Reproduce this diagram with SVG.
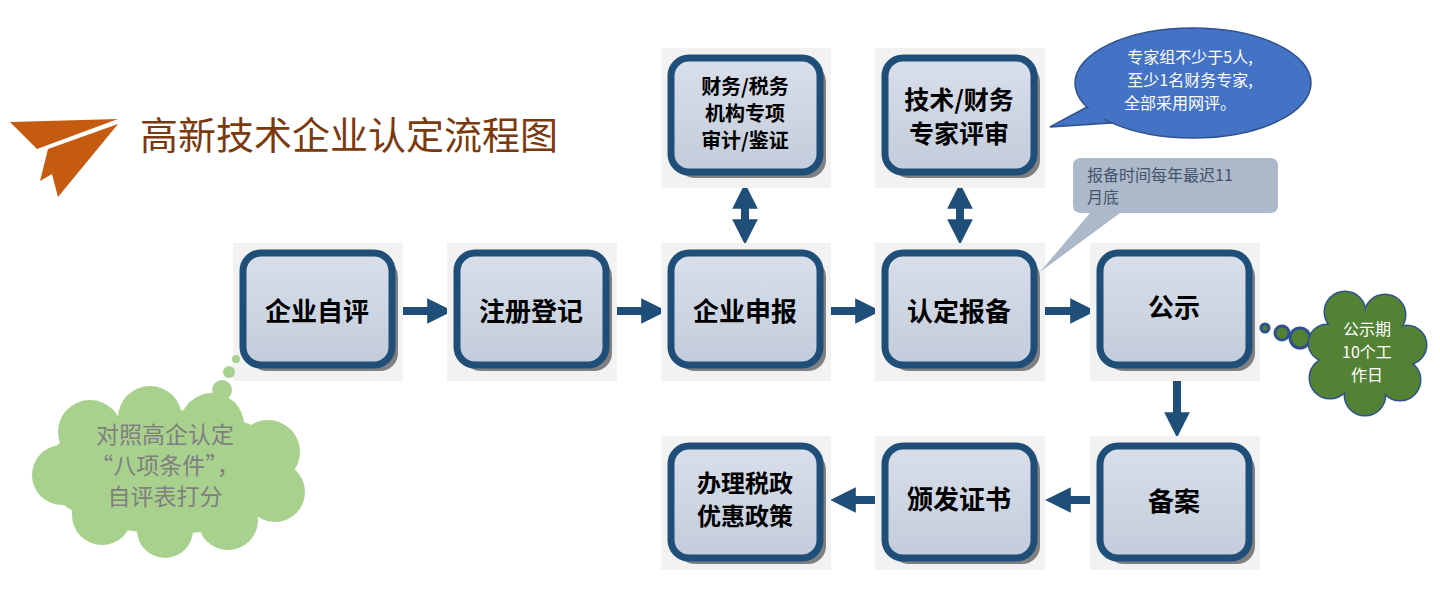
<svg xmlns="http://www.w3.org/2000/svg" width="1440" height="604" viewBox="0 0 1440 604">
<defs>
<linearGradient id="g" x1="0" y1="0" x2="0" y2="1"><stop offset="0" stop-color="#d9dfea"/><stop offset="1" stop-color="#c3ccdb"/></linearGradient>
<marker id="ah" viewBox="0 0 10 10" refX="5" refY="5" markerWidth="3.2" markerHeight="3.2" orient="auto-start-reverse" markerUnits="strokeWidth"><path d="M0,0L10,5L0,10z" fill="#1f4e79"/></marker>
</defs>
<style>
.panel{fill:#f2f2f2}
.sh{fill:#808080}
.box{fill:url(#g);stroke:#1f4e79;stroke-width:7}
.t{font-family:"Noto Sans CJK SC",sans-serif;font-weight:bold;fill:#000;text-anchor:middle}
.c{stroke:#1f4e79;stroke-width:8;fill:none;marker-end:url(#ah)}
.n{font-family:"Noto Sans CJK SC",sans-serif;text-anchor:middle}
.s{font-family:"Noto Sans CJK SC",sans-serif;text-anchor:start}
</style>
<rect width="1440" height="604" fill="#fff"/>
<g id="title">
<polygon points="10,122 118,119 37,149" fill="#c55a11"/>
<polygon points="48,149 118,124 58,197 52,174 40,181" fill="#c55a11"/>
<text x="140" y="149" font-family="Noto Sans CJK SC,sans-serif" font-size="38" fill="#7b3a0e">高新技术企业认定流程图</text>
</g>
<g id="connectors">
<line class="c" x1="402" y1="311" x2="440" y2="311"/>
<line class="c" x1="616" y1="311" x2="654" y2="311"/>
<line class="c" x1="830" y1="311" x2="868" y2="311"/>
<line class="c" x1="1044" y1="311" x2="1083" y2="311"/>
<line class="c" x1="1177" y1="372" x2="1177" y2="425"/>
<line class="c" x1="1097" y1="500" x2="1058" y2="500"/>
<line class="c" x1="882" y1="500" x2="843" y2="500"/>
<line class="c" x1="745" y1="196" x2="745" y2="232" style="marker-start:url(#ah)"/>
<line class="c" x1="960" y1="196" x2="960" y2="232" style="marker-start:url(#ah)"/>
</g>
<g id="n1"><rect class="panel" x="233" y="243" width="170" height="138"/><rect class="sh" x="249" y="259" width="149" height="112" rx="18"/><rect class="box" x="243" y="253" width="149" height="112" rx="18"/><text class="t" x="317" y="321" font-size="26">企业自评</text></g>
<g id="n2"><rect class="panel" x="447" y="243" width="170" height="138"/><rect class="sh" x="463" y="259" width="149" height="112" rx="18"/><rect class="box" x="457" y="253" width="149" height="112" rx="18"/><text class="t" x="531" y="321" font-size="26">注册登记</text></g>
<g id="n3"><rect class="panel" x="661" y="243" width="170" height="138"/><rect class="sh" x="677" y="259" width="149" height="112" rx="18"/><rect class="box" x="671" y="253" width="149" height="112" rx="18"/><text class="t" x="745" y="321" font-size="26">企业申报</text></g>
<g id="n4"><rect class="panel" x="875" y="243" width="170" height="138"/><rect class="sh" x="891" y="259" width="149" height="112" rx="18"/><rect class="box" x="885" y="253" width="149" height="112" rx="18"/><text class="t" x="959" y="321" font-size="26">认定报备</text></g>
<g id="n5"><rect class="panel" x="1090" y="243" width="170" height="138"/><rect class="sh" x="1106" y="259" width="149" height="112" rx="18"/><rect class="box" x="1100" y="253" width="149" height="112" rx="18"/><text class="t" x="1174" y="317" font-size="26">公示</text></g>
<g id="n6"><rect class="panel" x="661" y="48" width="170" height="140"/><rect class="sh" x="677" y="64" width="149" height="114" rx="18"/><rect class="box" x="671" y="58" width="149" height="114" rx="18"/><text class="t" x="745" y="94" font-size="20">财务/税务</text><text class="t" x="745" y="121" font-size="20">机构专项</text><text class="t" x="745" y="148" font-size="20">审计/鉴证</text></g>
<g id="n7"><rect class="panel" x="875" y="48" width="170" height="140"/><rect class="sh" x="891" y="64" width="149" height="114" rx="18"/><rect class="box" x="885" y="58" width="149" height="114" rx="18"/><text class="t" x="959" y="109" font-size="25">技术/财务</text><text class="t" x="959" y="143" font-size="25">专家评审</text></g>
<g id="n8"><rect class="panel" x="661" y="436" width="170" height="134"/><rect class="sh" x="677" y="452" width="149" height="112" rx="18"/><rect class="box" x="671" y="446" width="149" height="112" rx="18"/><text class="t" x="745" y="492" font-size="24">办理税政</text><text class="t" x="745" y="525" font-size="24">优惠政策</text></g>
<g id="n9"><rect class="panel" x="875" y="436" width="170" height="134"/><rect class="sh" x="891" y="452" width="149" height="112" rx="18"/><rect class="box" x="885" y="446" width="149" height="112" rx="18"/><text class="t" x="959" y="509" font-size="26">颁发证书</text></g>
<g id="n10"><rect class="panel" x="1090" y="436" width="170" height="134"/><rect class="sh" x="1106" y="452" width="149" height="112" rx="18"/><rect class="box" x="1100" y="446" width="149" height="112" rx="18"/><text class="t" x="1174" y="511" font-size="26">备案</text></g>
<g id="callout-blue">
<path d="M1050,127 L1100,100 L1125,122 Z" fill="#4472c4" stroke="#2f528f" stroke-width="1.5"/>
<ellipse cx="1193" cy="83" rx="118" ry="55" fill="#4472c4" stroke="#2f528f" stroke-width="1.5"/>
<path d="M1054,125 L1100,103 L1120,117 Z" fill="#4472c4"/>
<text class="n" fill="#fff" font-size="16"><tspan x="1190" y="63">专家组不少于5人,</tspan><tspan x="1190" y="86">至少1名财务专家,</tspan><tspan x="1180" y="109">全部采用网评。</tspan></text>
</g>
<g id="callout-gray">
<path d="M1081,158 H1270 Q1278,158 1278,166 V205 Q1278,213 1270,213 H1120 L1040,272 L1090,213 H1081 Q1073,213 1073,205 V166 Q1073,158 1081,158Z" fill="#acb9ca"/>
<text class="s" fill="#44546a" font-size="16"><tspan x="1087" y="181">报备时间每年最迟11</tspan><tspan x="1087" y="203">月底</tspan></text>
</g>
<g id="cloud-green">
<g fill="#548235" stroke="#2f528f" stroke-width="3">
<circle cx="1265" cy="328" r="4"/><circle cx="1282" cy="333" r="7"/><circle cx="1300" cy="338" r="10"/>
<circle cx="1345" cy="312" r="20"/><circle cx="1385" cy="315" r="20"/><circle cx="1407" cy="345" r="19"/><circle cx="1400" cy="380" r="20"/><circle cx="1365" cy="395" r="20"/><circle cx="1330" cy="378" r="20"/><circle cx="1327" cy="343" r="18"/><circle cx="1367" cy="352" r="40"/>
</g>
<g fill="#548235">
<circle cx="1345" cy="312" r="20"/><circle cx="1385" cy="315" r="20"/><circle cx="1407" cy="345" r="19"/><circle cx="1400" cy="380" r="20"/><circle cx="1365" cy="395" r="20"/><circle cx="1330" cy="378" r="20"/><circle cx="1327" cy="343" r="18"/><circle cx="1367" cy="352" r="40"/>
</g>
<text class="n" fill="#fff" font-size="16"><tspan x="1367" y="335">公示期</tspan><tspan x="1367" y="358">10个工</tspan><tspan x="1367" y="381">作日</tspan></text>
</g>
<g id="cloud-lightgreen" fill="#a9d18e">
<circle cx="236" cy="359" r="4"/><circle cx="229" cy="372" r="6"/><circle cx="222" cy="390" r="10"/><circle cx="212" cy="420" r="15"/>
<ellipse cx="170" cy="472" rx="125" ry="62"/>
<circle cx="90" cy="432" r="32"/><circle cx="150" cy="418" r="32"/><circle cx="212" cy="425" r="32"/><circle cx="268" cy="452" r="32"/><circle cx="275" cy="492" r="30"/><circle cx="228" cy="520" r="30"/><circle cx="165" cy="530" r="28"/><circle cx="102" cy="515" r="30"/><circle cx="62" cy="475" r="30"/>
<text class="n" fill="#7f7f7f" font-size="23"><tspan x="165" y="443">对照高企认定</tspan><tspan x="165" y="474">“八项条件”，</tspan><tspan x="165" y="505">自评表打分</tspan></text>
</g>
</svg>
